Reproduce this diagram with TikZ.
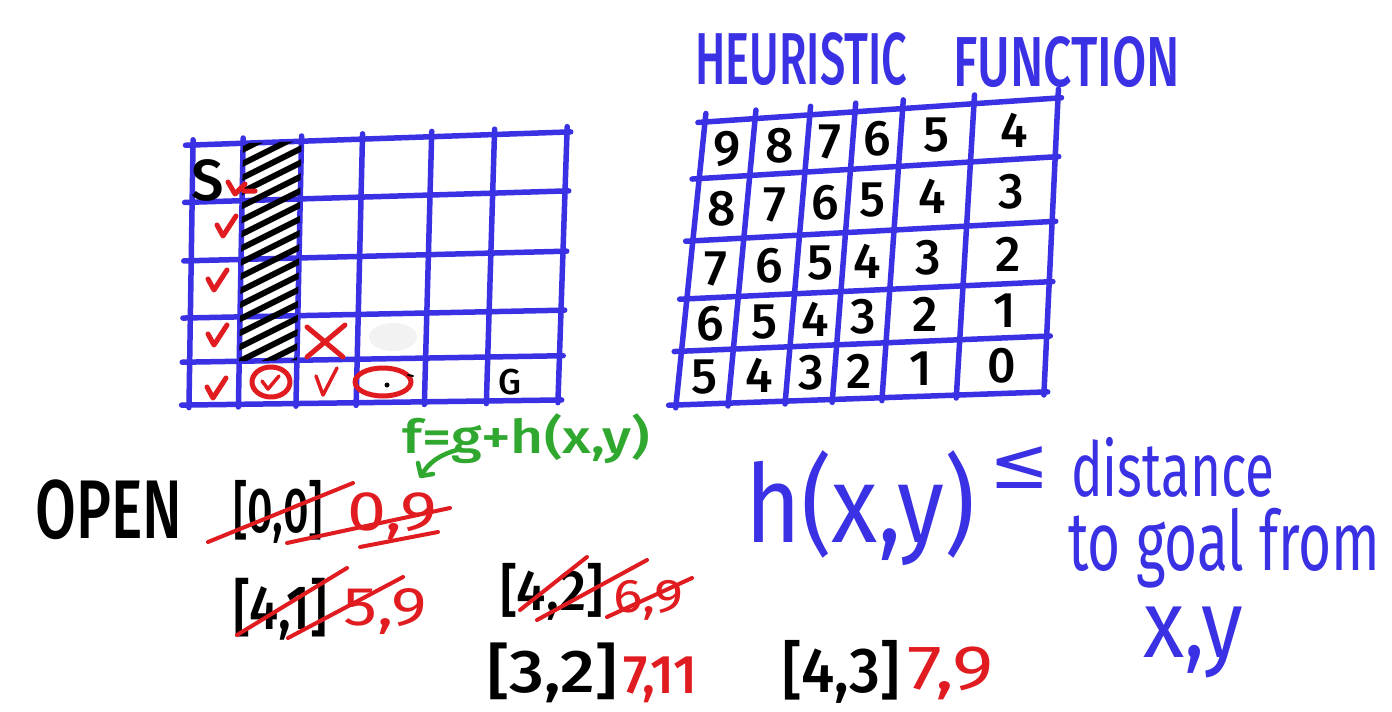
\documentclass[tikz,border=0pt]{standalone}
\usepackage{fontspec}
\usepackage{graphicx}
\setmainfont{Fira Sans}
\newfontfamily\medfont{Fira Sans Medium}
\newfontfamily\symfont{DejaVu Sans}
\usetikzlibrary{calc}
\definecolor{mblue}{RGB}{58,48,228}
\definecolor{mred}{RGB}{224,28,32}
\definecolor{mgreen}{RGB}{48,168,48}
\newcommand\handfit[3]{\resizebox*{#1pt}{#2pt}{\medfont #3}}
\newcommand\handfitl[3]{\resizebox*{#1pt}{#2pt}{#3}}
\begin{document}
\begin{tikzpicture}[x=1pt,y=-1pt,line cap=round,line join=round,
  gridline/.style={mblue,line width=5.5pt},
  hatchline/.style={black,line width=6pt},
  redmark/.style={mred,line width=5pt},
  strikeline/.style={mred,line width=4pt},
  greenline/.style={mgreen,line width=4.5pt},
  txt/.style={inner sep=0pt,anchor=north west},
  num/.style={inner sep=0pt,font=\fontsize{50}{50}\selectfont\medfont},
  chk/.pic={\draw[redmark] (-9,-2) -- (-3,9) -- (10,-11);}]
\useasboundingbox[fill=white] (0,0) rectangle (1392,712);

% ---------- left grid ----------
\coordinate (LTL) at (193,145);
\coordinate (LTR) at (567,132);
\coordinate (LBL) at (189,405);
\coordinate (LBR) at (558,400);
\foreach \u [count=\i from 0] in {0,.134,.29,.453,.638,.806,1} {
  \foreach \v [count=\j from 0] in {0,.22,.445,.665,.835,1} {
    \coordinate (L-\i-\j) at ($($(LTL)!\u!(LTR)$)!\v!($(LBL)!\u!(LBR)$)$);
  }
}
\fill[black!5] (393,337) ellipse [x radius=24, y radius=14];
\foreach \i in {0,...,6}
  \draw[gridline] ($(L-\i-0)!-0.02!(L-\i-5)$) -- ($(L-\i-5)!-0.01!(L-\i-0)$);
\foreach \j in {0,...,5}
  \draw[gridline] ($(L-0-\j)!-0.02!(L-6-\j)$) -- ($(L-6-\j)!-0.01!(L-0-\j)$);
% hatched wall
\begin{scope}
  \clip (L-1-0) -- (L-2-0) -- (L-2-4) -- (L-1-4) -- cycle;
  \foreach \k in {0,...,17}
    \draw[hatchline] (238,152+\k*14) -- (308,117+\k*14);
\end{scope}
% marks
\node[inner sep=0pt,font=\fontsize{58}{58}\selectfont\medfont] (S) at (208,180) {S};
\node[inner sep=0pt,font=\fontsize{36}{36}\selectfont\medfont] (G) at (510,382) {G};
\draw[redmark] (228,182) -- (235,194) -- (245,184) (244,191) -- (255,191);
\pic at (226,227) {chk};
\pic at (217,281) {chk};
\pic at (217,336) {chk};
\pic at (216,389) {chk};
\draw[redmark] (307,327) -- (343,357) (307,357) -- (345,325);
\draw[redmark] (271,382) ellipse [x radius=19, y radius=15];
\draw[mred,line width=3.5pt] (262,381) -- (268,389) -- (279,376);
\draw[mred,line width=3.5pt] (316,376) -- (323,395) -- (337,368);
\draw[redmark] (383,382) ellipse [x radius=28, y radius=14];
\fill[black] (387,385) circle (2.5);
\draw[black,line width=2pt] (408,375) -- (413,376);

% ---------- right grid ----------
\coordinate (RTL) at (705,122);
\coordinate (RTR) at (1058,98);
\coordinate (RBL) at (676,405);
\coordinate (RBR) at (1044,392);
\foreach \u [count=\i from 0] in {0,.142,.297,.425,.56,.762,1} {
  \foreach \v [count=\j from 0] in {0,.20,.42,.625,.81,1} {
    \coordinate (R-\i-\j) at ($($(RTL)!\u!(RTR)$)!\v!($(RBL)!\u!(RBR)$)$);
  }
}
\foreach \i in {0,...,6}
  \draw[gridline] ($(R-\i-0)!-0.03!(R-\i-5)$) -- ($(R-\i-5)!-0.01!(R-\i-0)$);
\foreach \j in {0,...,5}
  \draw[gridline] ($(R-0-\j)!-0.02!(R-6-\j)$) -- ($(R-6-\j)!-0.01!(R-0-\j)$);
\foreach \row [count=\j from 0] in {{9,8,7,6,5,4},{8,7,6,5,4,3},{7,6,5,4,3,2},{6,5,4,3,2,1},{5,4,3,2,1,0}} {
  \foreach \n [count=\i from 0] in \row {
    \pgfmathtruncatemacro\ii{\i+1}
    \pgfmathtruncatemacro\jj{\j+1}
    \node[num] (h-\i-\j) at ($(R-\i-\j)!.5!(R-\ii-\jj)$) {\n};
  }
}

% ---------- titles and text ----------
\node[txt,text=mblue] (heur) at (695,32) {\handfit{212}{53}{HEURISTIC}};
\node[txt,text=mblue] (func) at (953,36) {\handfit{227}{51}{FUNCTION}};

\node[txt,text=mgreen] (feq) at (402,413) {\handfit{248}{50}{f=g+h(x,y)}};
\draw[greenline] (457,450) .. controls (442,454) and (428,462) .. (422,475);
\draw[greenline] (418,463) -- (421,476) -- (433,474);

\node[txt] (open) at (35,480) {\handfit{147}{60}{OPEN}};
\node[txt] (p00) at (233,480) {\handfit{90}{63}{[0,0]}};
\node[txt,text=mred] (c00) at (347,493) {\handfitl{90}{47}{0,9}};
\node[txt] (p41) at (233,578) {\handfit{94}{62}{[4,1]}};
\node[txt,text=mred] (c41) at (343,588) {\handfitl{84}{46}{5,9}};
\node[txt] (p42) at (500,563) {\handfit{103}{57}{[4,2]}};
\node[txt,text=mred] (c42) at (613,580) {\handfitl{70}{40}{6,9}};
\node[txt] (p32) at (487,643) {\handfit{130}{60}{[3,2]}};
\node[txt,text=mred] (c32) at (623,657) {\handfit{74}{46}{7,11}};
\node[txt] (p43) at (782,640) {\handfit{118}{63}{[4,3]}};
\node[txt,text=mred] (c43) at (907,647) {\handfitl{86}{53}{7,9}};

\draw[strikeline] (208,542) -- (353,483);
\draw[strikeline] (287,543) -- (450,508);
\draw[strikeline] (360,547) -- (438,532);
\draw[strikeline] (237,635) -- (347,568);
\draw[strikeline] (288,638) -- (403,577);
\draw[strikeline] (520,610) -- (587,557);
\draw[strikeline] (537,620) -- (647,560);
\draw[strikeline] (607,617) -- (692,578);

\node[txt,text=mblue] (hxy) at (745,450) {\handfitl{230}{115}{h(x,y)}};
\node[inner sep=0pt,text=mblue,font=\symfont\fontsize{72}{72}\selectfont] (leq) at (1020,468) {≤};
\node[txt,text=mblue] (dist) at (1071,437) {\handfitl{203}{60}{distance}};
\node[txt,text=mblue] (togoal) at (1068,508) {\handfitl{312}{80}{to goal from}};
\node[txt,text=mblue] (xy) at (1143,607) {\handfitl{100}{71}{x,y}};
\end{tikzpicture}
\end{document}
